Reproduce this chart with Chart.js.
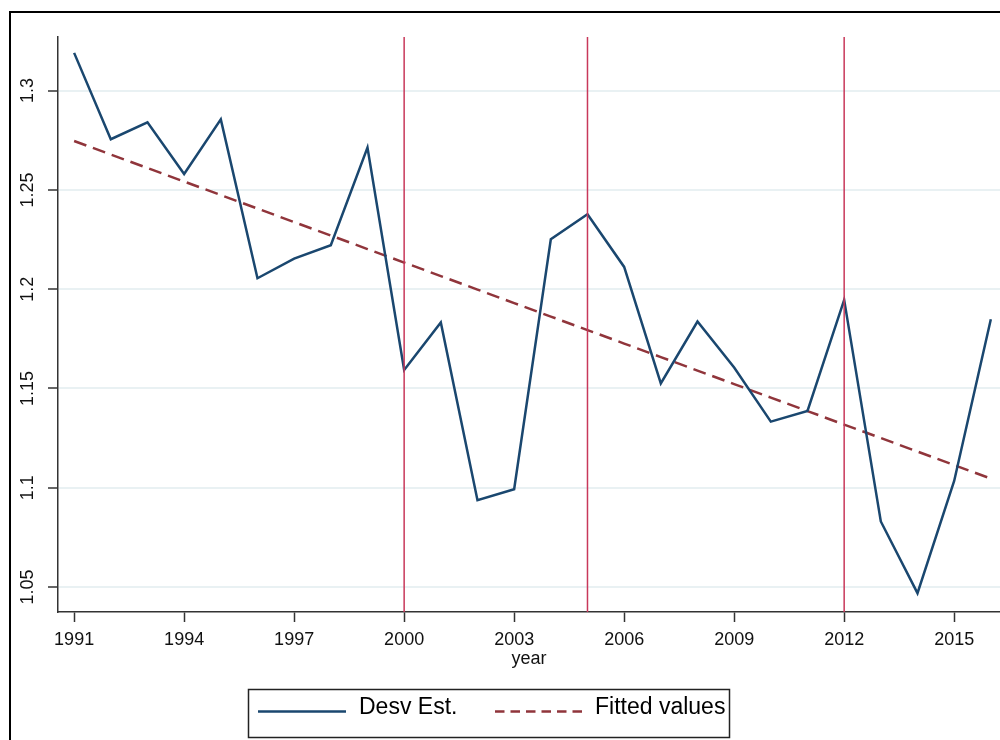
<!DOCTYPE html>
<html>
<head>
<meta charset="utf-8">
<title>Desv Est. vs Fitted values</title>
<script src="https://cdn.jsdelivr.net/npm/chart.js@4.4.1/dist/chart.umd.min.js"></script>
<style>
  html, body { margin:0; padding:0; background:#fff; overflow:hidden; }
  #chart { display:block; }
</style>
</head>
<body>
<canvas id="chart" width="1000" height="740"></canvas>
<script>
/* data */
const YEARS = [1991,1992,1993,1994,1995,1996,1997,1998,1999,2000,2001,2002,2003,
               2004,2005,2006,2007,2008,2009,2010,2011,2012,2013,2014,2015,2016];
const DESV_EST = [1.319,1.2755,1.284,1.258,1.2855,1.2055,1.2154,1.2221,1.2713,1.1593,1.1832,1.0937,1.0992,
                  1.2251,1.2377,1.2112,1.1525,1.1837,1.1605,1.1333,1.1387,1.1946,1.083,1.0469,1.1034,1.1848];
const FITTED = [1.2746,1.2678,1.261,1.2542,1.2474,1.2406,1.2338,1.227,1.2202,1.2134,1.2066,1.1998,1.193,
                1.1862,1.1794,1.1726,1.1658,1.159,1.1522,1.1454,1.1386,1.1318,1.125,1.1182,1.1114,1.1046];
const X_TICKS = [1991,1994,1997,2000,2003,2006,2009,2012,2015];
const Y_TICKS = [1.05,1.1,1.15,1.2,1.25,1.3];
const REF_YEARS = [2000,2005,2012];
const SERIES_LABELS = ['Desv Est.', 'Fitted values'];

const X_MIN = 1990.56, X_MAX = 2016.25;
const Y_MIN = 1.0374, Y_MAX = 1.327;

const NAVY = '#1a476f';
const MAROON = '#90353b';
const XLINE = '#c8385a';
const FONT = 'Arial, "Liberation Sans", sans-serif';

const pairs = vals => YEARS.map((yr, i) => ({ x: yr, y: vals[i] }));

// vertical reference lines, one small dataset each
const refSets = REF_YEARS.map(yr => ({
  label: 'ref' + yr,
  data: [{ x: yr, y: Y_MIN }, { x: yr, y: Y_MAX }],
  borderColor: XLINE, borderWidth: 1.5, pointRadius: 0, order: 0
}));

// frame round the whole graph + boxed legend under the axis
const frameAndLegend = {
  id: 'frameAndLegend',
  afterDraw(chart) {
    const ctx = chart.ctx;
    ctx.save();
    ctx.strokeStyle = '#000';
    ctx.lineWidth = 2;
    ctx.strokeRect(10, 12, 1200, 1000);

    ctx.lineWidth = 1.5;
    ctx.strokeStyle = '#222';
    ctx.strokeRect(248.5, 689.5, 481, 48);

    // legend key dashes are a bit shorter than on the plot
    const items = [
      { ds: chart.data.datasets[0], dash: [], x0: 258, x1: 346, tx: 359 },
      { ds: chart.data.datasets[1], dash: [9.5, 6], x0: 495, x1: 582, tx: 595 }
    ];
    items.forEach(it => {
      ctx.beginPath();
      ctx.setLineDash(it.dash);
      ctx.strokeStyle = it.ds.borderColor;
      ctx.lineWidth = it.ds.borderWidth;
      ctx.moveTo(it.x0, 711.5);
      ctx.lineTo(it.x1, 711.5);
      ctx.stroke();
      ctx.setLineDash([]);
      ctx.fillStyle = '#000';
      ctx.font = '23px ' + FONT;
      ctx.textBaseline = 'alphabetic';
      ctx.fillText(it.ds.label, it.tx, 714);
    });
    ctx.restore();
  }
};

new Chart(document.getElementById('chart').getContext('2d'), {
  type: 'line',
  data: {
    datasets: [
      { label: SERIES_LABELS[0], data: pairs(DESV_EST), borderColor: NAVY, borderWidth: 2.5,
        pointRadius: 0, tension: 0, order: 1 },
      { label: SERIES_LABELS[1], data: pairs(FITTED), borderColor: MAROON, borderWidth: 2.5,
        borderDash: [13, 7], pointRadius: 0, tension: 0, order: 2 },
      ...refSets
    ]
  },
  options: {
    responsive: false,
    animation: false,
    events: [],
    layout: { padding: { top: 37, left: 0, right: 0, bottom: 0 } },
    plugins: { legend: { display: false }, tooltip: { enabled: false } },
    scales: {
      x: {
        type: 'linear', min: X_MIN, max: X_MAX,
        afterBuildTicks: s => { s.ticks = X_TICKS.map(v => ({ value: v })); },
        afterFit: s => { s.height = 128; },
        grid: { drawOnChartArea: false, tickLength: 10, tickColor: '#333', tickWidth: 1.5 },
        border: { color: '#333', width: 1.5 },
        ticks: { color: '#111', padding: 7, font: { family: FONT, size: 18 }, callback: v => String(v) },
        title: { display: true, text: 'year', color: '#111', font: { family: FONT, size: 18 },
                 padding: { top: 0, bottom: 70 } }
      },
      y: {
        type: 'linear', min: Y_MIN, max: Y_MAX,
        afterBuildTicks: s => { s.ticks = Y_TICKS.map(v => ({ value: v })); },
        afterFit: s => { s.width = 58; },
        grid: { color: '#e9f1f3', lineWidth: 2, tickLength: 10, tickColor: '#333', tickWidth: 1.5 },
        border: { color: '#333', width: 1.5 },
        ticks: { color: '#111', padding: 2, minRotation: 90, maxRotation: 90, crossAlign: 'center',
                 font: { family: FONT, size: 18 }, callback: v => String(v) }
      }
    }
  },
  plugins: [frameAndLegend]
});
</script>
</body>
</html>
